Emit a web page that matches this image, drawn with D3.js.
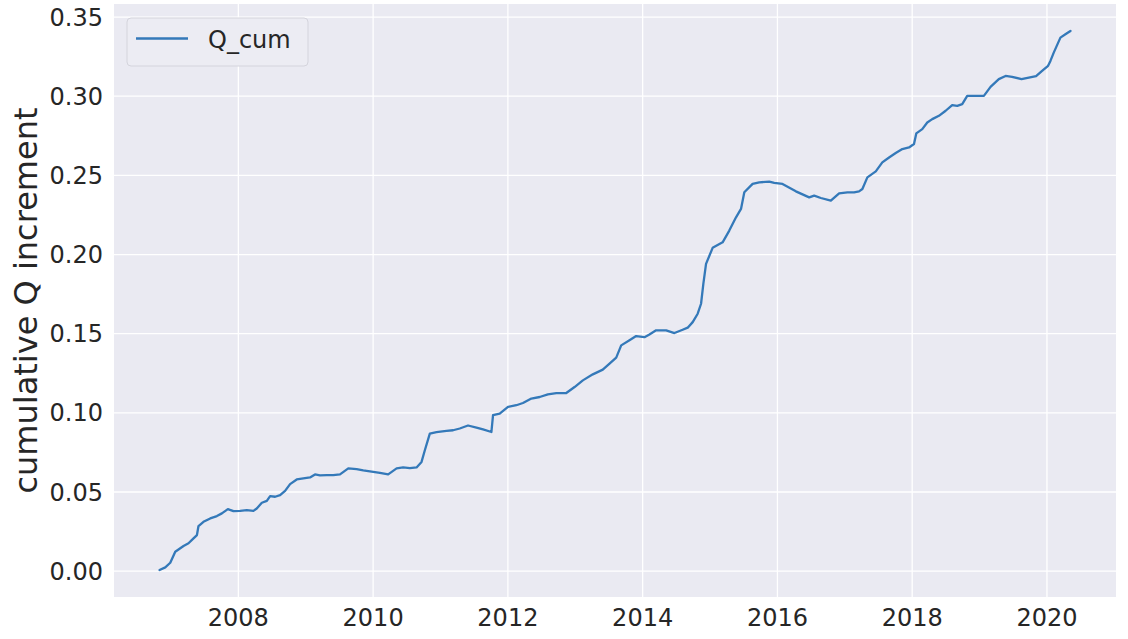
<!DOCTYPE html>
<html>
<head>
<meta charset="utf-8">
<script src="https://cdn.jsdelivr.net/npm/d3@7"></script>
<style>
  html, body { margin: 0; padding: 0; background: #ffffff; }
  svg { display: block; font-family: "DejaVu Sans", sans-serif; }
  svg text { font-family: "DejaVu Sans", sans-serif; }
</style>
</head>
<body>
<svg id="chart" width="1128" height="639"></svg>
<script>
// ---- data (decimal year, cumulative Q increment) ----
const years = [
  2006.838, 2006.923, 2006.997, 2007.071, 2007.194, 2007.268, 2007.342, 2007.393, 2007.416, 2007.490,
  2007.590, 2007.689, 2007.763, 2007.852, 2007.935, 2008.034, 2008.133, 2008.231, 2008.281, 2008.356,
  2008.430, 2008.479, 2008.553, 2008.627, 2008.701, 2008.775, 2008.874, 2008.972, 2009.071, 2009.145,
  2009.219, 2009.319, 2009.416, 2009.516, 2009.639, 2009.763, 2009.861, 2009.960, 2010.108, 2010.231,
  2010.356, 2010.453, 2010.553, 2010.652, 2010.726, 2010.775, 2010.849, 2010.948, 2011.096, 2011.194,
  2011.293, 2011.416, 2011.541, 2011.639, 2011.763, 2011.787, 2011.886, 2012.009, 2012.133, 2012.231,
  2012.356, 2012.479, 2012.601, 2012.726, 2012.874, 2012.997, 2013.120, 2013.268, 2013.416, 2013.516,
  2013.615, 2013.689, 2013.812, 2013.911, 2014.034, 2014.108, 2014.207, 2014.356, 2014.479, 2014.601,
  2014.676, 2014.750, 2014.824, 2014.874, 2014.908, 2014.948, 2015.046, 2015.194, 2015.293, 2015.393,
  2015.467, 2015.516, 2015.639, 2015.738, 2015.886, 2015.960, 2016.083, 2016.281, 2016.479, 2016.553,
  2016.652, 2016.800, 2016.923, 2017.046, 2017.145, 2017.219, 2017.268, 2017.342, 2017.467, 2017.564,
  2017.664, 2017.763, 2017.861, 2017.960, 2018.034, 2018.068, 2018.157, 2018.231, 2018.305, 2018.404,
  2018.504, 2018.601, 2018.676, 2018.750, 2018.824, 2018.948, 2019.071, 2019.170, 2019.293, 2019.393,
  2019.490, 2019.630, 2019.738, 2019.846, 2019.935, 2020.024, 2020.059, 2020.108, 2020.207, 2020.281,
  2020.356
];
const qCum = [
  0.0004, 0.0021, 0.0050, 0.0120, 0.0156, 0.0173, 0.0204, 0.0225, 0.0282, 0.0309,
  0.0330, 0.0345, 0.0362, 0.0389, 0.0376, 0.0378, 0.0383, 0.0378, 0.0393, 0.0429,
  0.0441, 0.0471, 0.0467, 0.0477, 0.0504, 0.0547, 0.0576, 0.0583, 0.0589, 0.0608,
  0.0602, 0.0603, 0.0603, 0.0608, 0.0646, 0.0641, 0.0633, 0.0627, 0.0618, 0.0608,
  0.0646, 0.0652, 0.0648, 0.0652, 0.0687, 0.0761, 0.0866, 0.0875, 0.0883, 0.0887,
  0.0898, 0.0917, 0.0904, 0.0892, 0.0876, 0.0982, 0.0992, 0.1034, 0.1045, 0.1059,
  0.1087, 0.1097, 0.1114, 0.1122, 0.1122, 0.1160, 0.1202, 0.1240, 0.1270, 0.1308,
  0.1346, 0.1423, 0.1455, 0.1482, 0.1475, 0.1492, 0.1518, 0.1518, 0.1501, 0.1522,
  0.1535, 0.1570, 0.1623, 0.1686, 0.1812, 0.1938, 0.2039, 0.2074, 0.2148, 0.2232,
  0.2285, 0.2390, 0.2443, 0.2453, 0.2457, 0.2449, 0.2443, 0.2396, 0.2358, 0.2369,
  0.2354, 0.2337, 0.2383, 0.2390, 0.2390, 0.2396, 0.2411, 0.2484, 0.2522, 0.2579,
  0.2610, 0.2638, 0.2663, 0.2673, 0.2695, 0.2762, 0.2789, 0.2831, 0.2852, 0.2873,
  0.2905, 0.2941, 0.2936, 0.2947, 0.2999, 0.2999, 0.2999, 0.3056, 0.3105, 0.3125,
  0.3119, 0.3105, 0.3115, 0.3124, 0.3157, 0.3189, 0.3220, 0.3272, 0.3367, 0.3388,
  0.3409
];
const xTicks = [2008, 2010, 2012, 2014, 2016, 2018, 2020];
const yTicks = [0.00, 0.05, 0.10, 0.15, 0.20, 0.25, 0.30, 0.35];
const seriesName = "Q_cum";
const yLabel = "cumulative Q increment";

// ---- layout ----
const plot = { left: 114, right: 1116, top: 4, bottom: 597 };
const svg = d3.select("#chart");
const data = years.map((y, i) => ({ x: y, v: qCum[i] }));

// matplotlib-style 5% margins
const xExt = d3.extent(years), yExt = d3.extent(qCum);
const xm = (xExt[1] - xExt[0]) * 0.05, ym = (yExt[1] - yExt[0]) * 0.05;
const x = d3.scaleLinear().domain([xExt[0] - xm, xExt[1] + xm]).range([plot.left, plot.right]);
const y = d3.scaleLinear().domain([yExt[0] - ym, yExt[1] + ym]).range([plot.bottom, plot.top]);

// background
svg.append("rect")
  .attr("x", plot.left).attr("y", plot.top)
  .attr("width", plot.right - plot.left).attr("height", plot.bottom - plot.top)
  .attr("fill", "#eaeaf2");

// grid + ticks
const gx = svg.append("g")
  .attr("transform", `translate(0,${plot.bottom})`)
  .call(d3.axisBottom(x).tickValues(xTicks).tickSize(-(plot.bottom - plot.top)).tickFormat(d3.format("d")).tickPadding(10));
gx.attr("font-family", null).attr("font-size", null);
gx.select(".domain").remove();
gx.selectAll(".tick line").attr("stroke", "#ffffff").attr("stroke-width", 1.3);
gx.selectAll(".tick text").attr("fill", "#262626")
  .style("font-size", "24px").style("font-family", "'DejaVu Sans', sans-serif")
  .attr("y", 29).attr("dy", 0);

const gy = svg.append("g")
  .attr("transform", `translate(${plot.left},0)`)
  .call(d3.axisLeft(y).tickValues(yTicks).tickSize(-(plot.right - plot.left)).tickFormat(d3.format(".2f")).tickPadding(11));
gy.attr("font-family", null).attr("font-size", null);
gy.select(".domain").remove();
gy.selectAll(".tick line").attr("stroke", "#ffffff").attr("stroke-width", 1.3);
gy.selectAll(".tick text").attr("fill", "#262626")
  .style("font-size", "24px").style("font-family", "'DejaVu Sans', sans-serif")
  .attr("dy", "0.36em");

// line
const line = d3.line().x(d => x(d.x)).y(d => y(d.v));
svg.append("path")
  .datum(data)
  .attr("d", line)
  .attr("fill", "none")
  .attr("stroke", "#3479b9")
  .attr("stroke-width", 2.3)
  .attr("stroke-linejoin", "round")
  .attr("stroke-linecap", "round");

// y label
svg.append("text")
  .attr("transform", `translate(37,${(plot.top + plot.bottom) / 2}) rotate(-90)`)
  .attr("text-anchor", "middle")
  .attr("fill", "#262626")
  .style("font-size", "32px")
  .text(yLabel);

// legend
const lg = svg.append("g");
lg.append("rect")
  .attr("x", 127).attr("y", 18).attr("width", 181).attr("height", 48).attr("rx", 4)
  .attr("fill", "#ececf3").attr("stroke", "#d4d4dc").attr("stroke-width", 1);
lg.append("line")
  .attr("x1", 136).attr("x2", 188).attr("y1", 38.5).attr("y2", 38.5)
  .attr("stroke", "#3479b9").attr("stroke-width", 2.3);
lg.append("text")
  .attr("x", 208).attr("y", 48)
  .attr("fill", "#262626")
  .style("font-size", "24px")
  .text(seriesName);
</script>
</body>
</html>
